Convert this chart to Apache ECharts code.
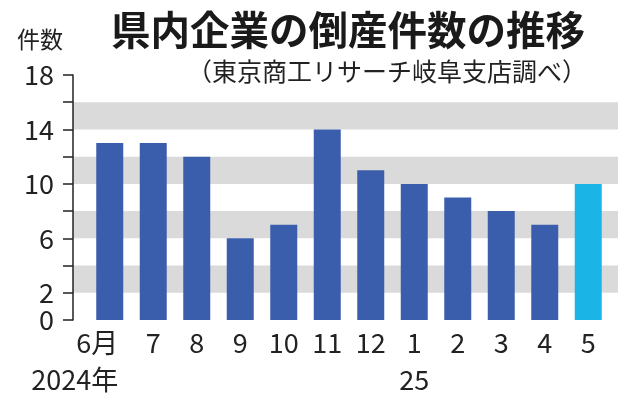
<!DOCTYPE html>
<html>
<head>
<meta charset="utf-8">
<script src="https://cdn.jsdelivr.net/npm/echarts@6/dist/echarts.min.js"></script>
<style>
  html, body { margin: 0; padding: 0; background: #fff; }
  #main { width: 634px; height: 400px; }
</style>
</head>
<body>
<div id="main"></div>
<script>
(function (window) {
    'use strict';
    var font = 'Noto Sans CJK JP';

    // データ
    var months = ['6月', '7', '8', '9', '10', '11', '12', '1', '2', '3', '4', '5'];
    var years = ['2024年', '', '', '', '', '', '', '25', '', '', '', ''];
    var counts = [13, 13, 12, 6, 7, 14, 11, 10, 9, 8, 7, 10];
    var yLabels = [0, 2, 6, 10, 14, 18];

    var barColor = '#3a5eac';
    var lastColor = '#1ab4e6';
    var labelSize = 27;

    var option = {
        animation: false,
        backgroundColor: '#fff',
        textStyle: { fontFamily: font },
        title: [{
            text: '県内企業の倒産件数の推移',
            left: 106, top: 5,
            textStyle: { fontFamily: font, fontSize: 39.5, fontWeight: 'bold', color: '#1a1a1a' }
        }, {
            text: '（東京商工リサーチ岐阜支店調べ）',
            left: 182, top: 54,
            textStyle: { fontFamily: font, fontSize: 25, fontWeight: 'normal', color: '#222' }
        }, {
            text: '件数',
            left: 12, top: 23,
            textStyle: { fontFamily: font, fontSize: 23, fontWeight: 'normal', color: '#222' }
        }],
        grid: [
            // 縞模様と縦軸
            { left: 73, right: 16, top: 75, bottom: 80 },
            // 棒
            { left: 88, right: 24, top: 75, bottom: 80 }
        ],
        xAxis: [{
            gridIndex: 0, type: 'value', show: false
        }, {
            gridIndex: 1,
            type: 'category',
            data: months,
            axisLine: { show: false },
            axisTick: { show: false },
            axisLabel: {
                interval: 0,
                margin: 4,
                fontFamily: font,
                fontSize: labelSize,
                lineHeight: 37,
                color: '#222',
                formatter: function (val, idx) {
                    if (idx === 0) {
                        return '{a|' + val + '}\n{b|' + years[idx] + '}';
                    }
                    return years[idx] ? val + '\n' + years[idx] : val;
                },
                rich: {
                    a: { fontFamily: font, fontSize: labelSize, lineHeight: 37, color: '#222', padding: [0, 25, 0, 0] },
                    b: { fontFamily: font, fontSize: labelSize, lineHeight: 37, color: '#222', padding: [0, 70, 0, 0] }
                }
            }
        }],
        yAxis: [{
            gridIndex: 0,
            type: 'value',
            min: 0, max: 18, interval: 2,
            axisLine: { show: true, lineStyle: { color: '#222', width: 1.5 } },
            axisTick: { show: true, length: 10, lineStyle: { color: '#222', width: 1.5 } },
            splitLine: { show: false },
            splitArea: { show: true, areaStyle: { color: ['rgba(0,0,0,0)', '#dadada'] } },
            axisLabel: {
                margin: 19,
                fontFamily: font,
                fontSize: labelSize,
                color: '#222',
                formatter: function (v) {
                    return yLabels.indexOf(v) >= 0 ? String(v) : '';
                }
            }
        }, {
            gridIndex: 1,
            type: 'value',
            min: 0, max: 18, interval: 2,
            show: false
        }],
        series: [{
            type: 'bar',
            xAxisIndex: 1,
            yAxisIndex: 1,
            barWidth: 27,
            itemStyle: { color: barColor },
            data: counts.map(function (v, i) {
                return i === counts.length - 1 ? { value: v, itemStyle: { color: lastColor } } : v;
            })
        }]
    };

    var et = echarts.init(document.getElementById('main'));
    et.setOption(option);
})(window);
</script>
</body>
</html>
